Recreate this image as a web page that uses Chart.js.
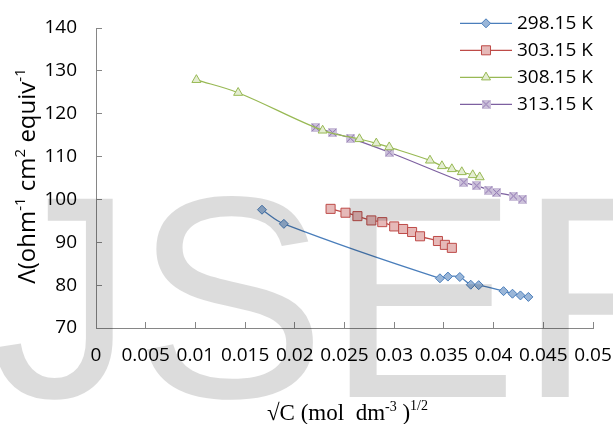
<!DOCTYPE html>
<html>
<head>
<meta charset="utf-8">
<script src="https://cdn.jsdelivr.net/npm/chart.js"></script>
<style>
  html, body { margin: 0; padding: 0; background: #fff; }
</style>
</head>
<body>
<canvas id="chart" width="613" height="424"></canvas>
<script>
  // Serier (temperaturer)
  const seriesNames = ['298.15 K', '303.15 K', '308.15 K', '313.15 K'];

  // √C-värden och ledningsförmåga för varje serie
  const x298 = [0.0167, 0.0189, 0.0346, 0.0354, 0.0366, 0.0377, 0.0385, 0.0410, 0.0419, 0.0427, 0.0435];
  const y298 = [97.6, 94.3, 81.6, 82.0, 81.9, 80.1, 80.0, 78.6, 78.0, 77.6, 77.25];

  const x303 = [0.0236, 0.0251, 0.0263, 0.0277, 0.0288, 0.0300, 0.0309, 0.0318, 0.0326, 0.0344, 0.0351, 0.0358];
  const y303 = [97.8, 96.9, 96.1, 95.1, 94.7, 93.7, 93.1, 92.4, 91.4, 90.3, 89.4, 88.7];

  const x308 = [0.0101, 0.0143, 0.0228, 0.0265, 0.0282, 0.0295, 0.0336, 0.0348, 0.0358, 0.0368, 0.0379, 0.0386];
  const y308 = [127.9, 124.9, 116.1, 114.1, 113.1, 112.2, 109.1, 107.8, 107.1, 106.4, 105.7, 105.2];

  const x313 = [0.0221, 0.0238, 0.0256, 0.0295, 0.0370, 0.0383, 0.0395, 0.0403, 0.0420, 0.0429];
  const y313 = [116.8, 115.6, 114.3, 111.0, 104.0, 103.2, 102.2, 101.6, 100.8, 100.1];

  const AXIS_COLOR = '#868686';
  const TICK_FONT = { family: '"Open Sans"', size: 19 };

  const toPoints = (xs, ys) => xs.map((x, i) => ({ x: x, y: ys[i] }));

  // X-markör med fylld ruta (som Excel)
  const crossMarker = document.createElement('canvas');
  crossMarker.width = 9;
  crossMarker.height = 9;
  (function () {
    const c = crossMarker.getContext('2d');
    c.fillStyle = '#ccc1da';
    c.fillRect(0, 0, 9, 9);
    c.strokeStyle = '#8a6fae';
    c.lineWidth = 1;
    c.beginPath();
    c.moveTo(1, 1); c.lineTo(8, 8);
    c.moveTo(8, 1); c.lineTo(1, 8);
    c.stroke();
  })();

  function makeSet(i, xs, ys, line, fill, style, radius) {
    return {
      label: seriesNames[i],
      data: toPoints(xs, ys),
      borderColor: line,
      borderWidth: 1.25,
      backgroundColor: fill,
      pointBackgroundColor: fill,
      pointBorderColor: line,
      pointBorderWidth: 1,
      pointStyle: style,
      pointRadius: radius,
      pointHoverRadius: radius,
      tension: 0.35,
      fill: false,
    };
  }

  const datasets = [
    makeSet(0, x298, y298, '#4a7ebb', '#9ab6d8', 'rectRot', 4.5),
    makeSet(1, x303, y303, '#be4b48', '#e6b9b8', 'rect', 6.4),
    makeSet(2, x308, y308, '#98b954', '#e4edd2', 'triangle', 5.2),
    makeSet(3, x313, y313, '#7d60a0', '#ccc1da', crossMarker, 5),
  ];

  // Rita textbitar med upphöjda delar
  function drawRuns(c, runs, x, y) {
    runs.forEach(r => {
      c.font = r.font;
      c.fillText(r.t, x, y - (r.up || 0));
      x += c.measureText(r.t).width;
    });
  }
  function runsWidth(c, runs) {
    return runs.reduce((w, r) => { c.font = r.font; return w + c.measureText(r.t).width; }, 0);
  }

  const yTitleRuns = [
    { t: 'Λ(ohm', font: '24px "Open Sans"' },
    { t: '-1', font: '15px "Open Sans"', up: 10 },
    { t: ' cm', font: '24px "Open Sans"' },
    { t: '2', font: '15px "Open Sans"', up: 10 },
    { t: ' equiv', font: '24px "Open Sans"' },
    { t: '-1', font: '15px "Open Sans"', up: 10 },
  ];
  const xTitleRuns = [
    { t: '√C (mol  dm', font: '23px "Liberation Serif"' },
    { t: '-3', font: '14px "Liberation Serif"', up: 9 },
    { t: ' )', font: '23px "Liberation Serif"' },
    { t: '1/2', font: '14px "Liberation Serif"', up: 10 },
  ];

  const extras = {
    id: 'extras',
    beforeDraw(chart) {
      const c = chart.ctx;
      c.save();
      c.fillStyle = '#fff';
      c.fillRect(0, 0, chart.width, chart.height);
      c.restore();
    },
    afterDraw(chart) {
      const c = chart.ctx;
      const area = chart.chartArea;
      c.save();
      c.fillStyle = '#000';
      c.textBaseline = 'alphabetic';
      c.textAlign = 'left';

      // Y-axelns titel
      c.save();
      c.translate(35, (area.top + area.bottom) / 2 - 2);
      c.rotate(-Math.PI / 2);
      drawRuns(c, yTitleRuns, -runsWidth(c, yTitleRuns) / 2, 0);
      c.restore();

      // X-axelns titel
      drawRuns(c, xTitleRuns, 267, 420);

      // Förklaring
      chart.data.datasets.forEach((ds, i) => {
        const y = 23.3 + i * 27;
        c.strokeStyle = ds.borderColor;
        c.lineWidth = 1.25;
        c.beginPath();
        c.moveTo(460, y);
        c.lineTo(512, y);
        c.stroke();
        c.fillStyle = ds.pointBackgroundColor;
        c.strokeStyle = ds.pointBorderColor;
        c.lineWidth = 1;
        Chart.helpers.drawPoint(c, { pointStyle: ds.pointStyle, radius: ds.pointRadius, rotation: 0, borderWidth: 1 }, 486, y);
        c.fillStyle = '#000';
        c.font = '19px "Open Sans"';
        c.textBaseline = 'middle';
        c.fillText(ds.label, 517, y);
      });

      // Vattenstämpel
      c.globalCompositeOperation = 'multiply';
      c.fillStyle = '#dcdcdc';
      c.font = '288px "Liberation Sans"';
      c.textBaseline = 'alphabetic';
      c.fillText('IJSER', -90, 397);
      c.restore();
    }
  };

  const ctx = document.getElementById('chart').getContext('2d');
  new Chart(ctx, {
    type: 'line',
    data: { datasets: datasets },
    plugins: [extras],
    options: {
      responsive: false,
      animation: false,
      layout: { padding: { left: 0, right: 20, top: 28, bottom: 0 } },
      plugins: {
        legend: { display: false },
        tooltip: { enabled: false },
      },
      scales: {
        x: {
          type: 'linear',
          min: 0,
          max: 0.05,
          afterFit: s => { s.height = 96; s.paddingLeft = 0; s.paddingRight = 0; },
          ticks: {
            stepSize: 0.005,
            autoSkip: false,
            maxRotation: 0,
            padding: 22,
            color: '#000',
            font: TICK_FONT,
            callback: v => String(Number(v.toFixed(3))),
          },
          grid: { drawOnChartArea: false, tickLength: -6, color: AXIS_COLOR },
          border: { color: AXIS_COLOR, width: 1 },
        },
        y: {
          min: 70,
          max: 140,
          afterFit: s => { s.width = 96; s.paddingTop = 0; s.paddingBottom = 0; },
          ticks: {
            stepSize: 5,
            padding: 25,
            color: '#000',
            font: TICK_FONT,
            callback: v => (v % 10 === 0 ? String(v) : ''),
          },
          grid: { drawOnChartArea: false, tickLength: -6, color: AXIS_COLOR },
          border: { color: AXIS_COLOR, width: 1 },
        },
      },
    },
  });
</script>
</body>
</html>
